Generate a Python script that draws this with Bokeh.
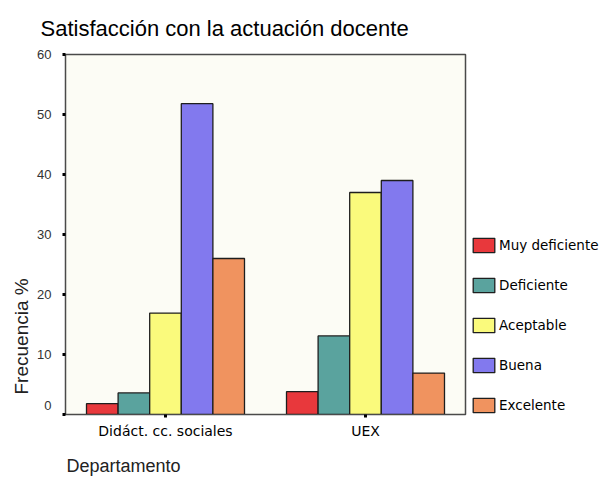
from bokeh.plotting import figure
from bokeh.models import FactorRange, Range1d, Legend, LegendItem, Title, FixedTicker
from bokeh.transform import dodge
from bokeh.embed import file_html
from bokeh.resources import INLINE

categories = ["Didáct. cc. sociales", "UEX"]
series_names = ["Muy deficiente", "Deficiente", "Aceptable", "Buena", "Excelente"]
muy_deficiente = [1.8, 3.8]
deficiente = [3.6, 13.1]
aceptable = [16.9, 37.0]
buena = [51.8, 39.0]
excelente = [26.0, 6.9]
y_ticks = [0, 10, 20, 30, 40, 50, 60]

colors = ["#e8383c", "#5aa39e", "#fafa7c", "#8279ee", "#f0935f"]
series = [muy_deficiente, deficiente, aceptable, buena, excelente]

p = figure(x_range=FactorRange(*categories), y_range=Range1d(0, 60),
           frame_width=400, frame_height=360, output_backend="svg", toolbar_location=None,
           min_border_left=65, min_border_right=134, min_border_top=53, min_border_bottom=71)

bw = 0.158
offsets = [-2 * bw, -bw, 0, bw, 2 * bw]
items = []
for name, vals, col, off in zip(series_names, series, colors, offsets):
    r = p.vbar(x=dodge("cat", off, range=p.x_range), top="val", width=bw,
               source=dict(cat=categories, val=vals),
               fill_color=col, line_color="#1e1e1e", line_width=1.3)
    items.append(LegendItem(label=name, renderers=[r]))

p.background_fill_color = "#fcfcf5"
p.border_fill_color = "white"
p.outline_line_color = "#4a4a4a"
p.outline_line_width = 1.5
p.grid.visible = False

# y axis
ya = p.yaxis[0]
ya.ticker = FixedTicker(ticks=y_ticks)
ya.major_label_overrides = {0: "0\n "}
ya.axis_line_color = "#4a4a4a"
ya.major_tick_line_color = "black"
ya.major_tick_line_width = 3
ya.major_tick_out = 3
ya.major_tick_in = 0
ya.minor_tick_line_color = None
ya.major_label_standoff = 11
ya.major_label_text_font = "Liberation Sans"
ya.major_label_text_font_size = "13px"
ya.major_label_text_color = "#333333"

# x axis
xa = p.xaxis[0]
xa.axis_line_color = "#4a4a4a"
xa.major_tick_line_color = "black"
xa.major_tick_line_width = 3
xa.major_tick_out = 3
xa.major_tick_in = 0
xa.major_label_standoff = 5
xa.major_label_text_font = "DejaVu Sans"
xa.major_label_text_font_size = "14px"
xa.major_label_text_color = "black"

# titles
p.add_layout(Title(text="Satisfacción con la actuación docente", align="left", offset=-25,
                   text_font="Liberation Sans", text_font_size="22px",
                   text_font_style="normal", text_color="black", standoff=27), "above")
p.add_layout(Title(text="Departamento", align="left", offset=1,
                   text_font="Liberation Sans", text_font_size="18px",
                   text_font_style="normal", text_color="#222222", standoff=24), "below")
p.add_layout(Title(text="Frecuencia %", align="left", offset=20,
                   text_font="Liberation Sans", text_font_size="19px",
                   text_font_style="normal", text_color="#222222", standoff=6), "left")

legend = Legend(items=items, location=(5, 0), orientation="vertical",
                padding=0, margin=0, spacing=22, glyph_width=27, glyph_height=18,
                label_standoff=2, label_text_font="DejaVu Sans", label_text_font_size="13.5px",
                label_text_color="black", border_line_color=None, background_fill_alpha=0)
p.add_layout(legend, "right")

open("out.html", "w").write(file_html(p, INLINE))
